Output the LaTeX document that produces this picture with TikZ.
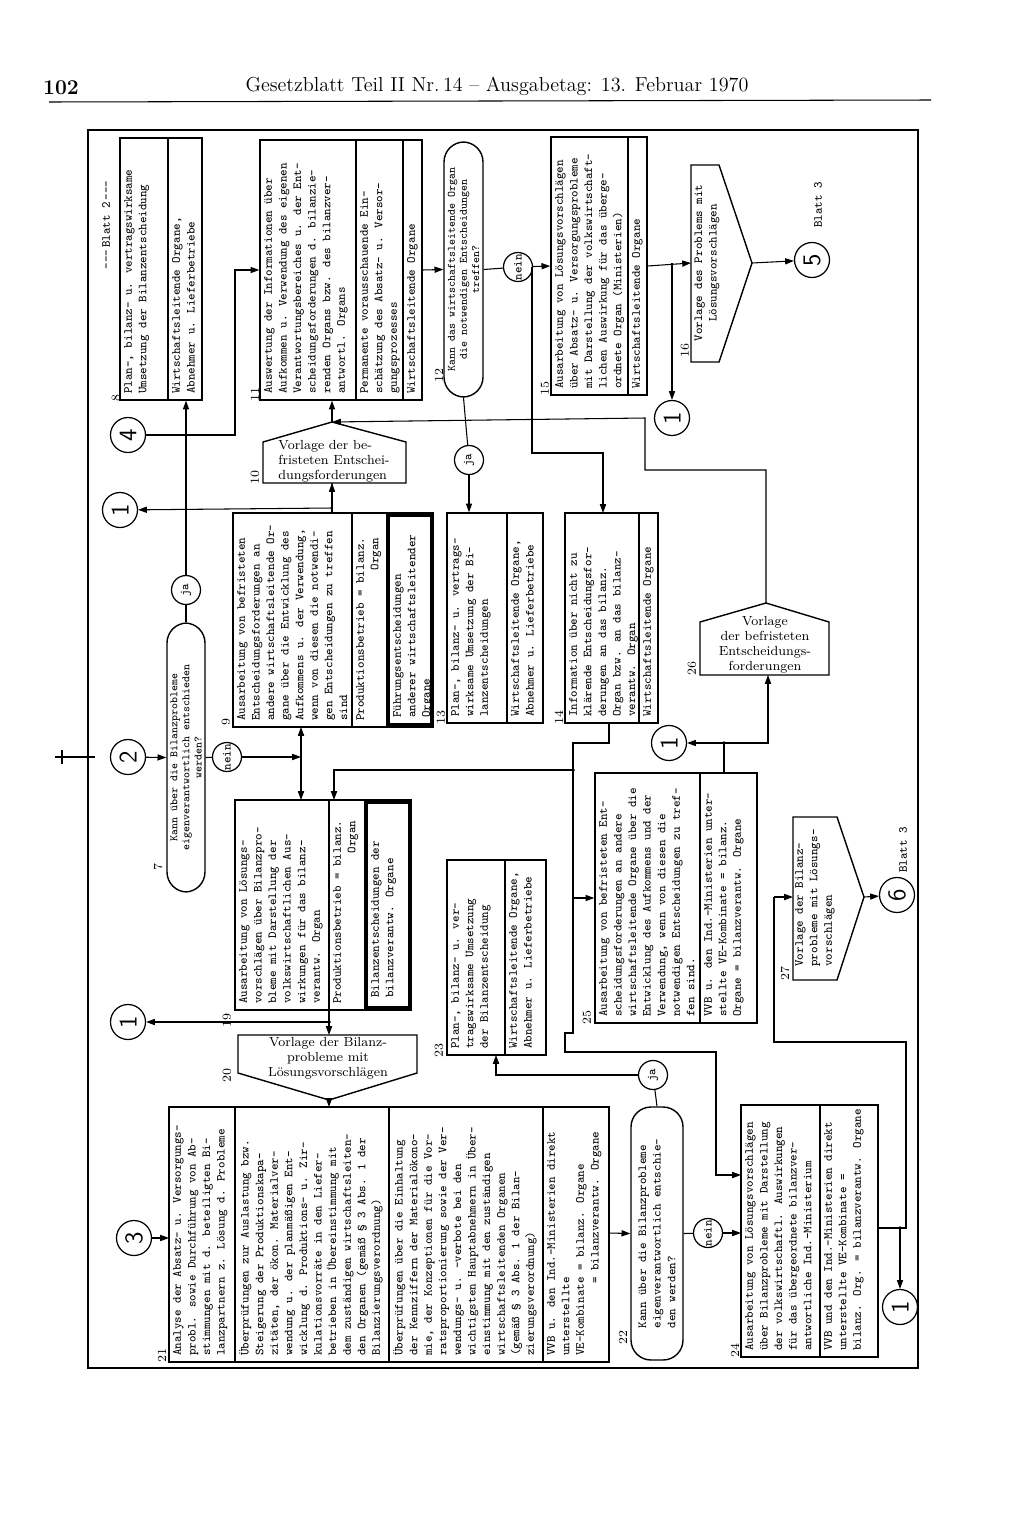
\documentclass[tikz,border=0pt]{standalone}
\usetikzlibrary{fit,arrows.meta}
\tikzset{
  box/.style={draw,line width=0.8pt,inner sep=0pt},
  thick box/.style={draw,line width=2.4pt,inner sep=0pt},
  dec/.style={draw,line width=0.8pt,inner sep=0pt,rounded corners=0.4cm},
  txt/.style={font=\ttfamily\fontsize{7}{8.3}\selectfont,rotate=90,align=left,inner sep=1pt},
  dtxt/.style={font=\ttfamily\fontsize{6.4}{6.9}\selectfont,rotate=90,inner sep=0pt},
  ptxt/.style={font=\rmfamily\fontsize{7.5}{8.6}\selectfont,align=center,inner sep=1pt},
  num/.style={font=\rmfamily\fontsize{7}{8}\selectfont,rotate=90,inner sep=0pt},
  cir/.style={draw,circle,line width=0.7pt,minimum size=0.7cm,inner sep=0pt,font=\sffamily\Large,rotate=90},
  jn/.style={draw,circle,line width=0.7pt,minimum size=0.58cm,inner sep=0pt,font=\ttfamily\fontsize{7}{8}\selectfont,rotate=90},
  arr/.style={-{Triangle[length=5pt,width=3.5pt]}},
  dot/.style={circle,fill,inner sep=0.8pt}
}
\begin{document}
\begin{tikzpicture}[x=0.02cm,y=-0.02cm,line width=0.6pt]
\useasboundingbox (0,0) rectangle (1024,1528);
% page head
\node[font=\bfseries\fontsize{12}{14}\selectfont] (pg) at (61,88) {102};
\node[font=\fontsize{11.5}{14}\selectfont] (ttl) at (497,86) {Gesetzblatt Teil II Nr.\,14 -- Ausgabetag: 13. Februar 1970};
\draw (49,102) -- (931,100);
\draw[line width=1.1pt] (88,130) rectangle (918,1368);
\draw (55,757) -- (95,757);
\draw (62,750) -- (62,764);

% --- upper row
\node[box,fit={(120,138) (202,400)}] (b8) {};
\draw (168,138) -- (168,400);
\node[txt,anchor=north west] at (122,396) {Plan-, bilanz- u. vertragswirksame\\Umsetzung der Bilanzentscheidung};
\node[txt,anchor=north west] at (170,396) {Wirtschaftsleitende Organe,\\Abnehmer u. Lieferbetriebe};
\node[txt] at (106,225) {---\,Blatt 2\,---};

\node[box,fit={(260,140) (422,400)}] (b11) {};
\draw (356,140) -- (356,400);
\draw (403,140) -- (403,400);
\node[txt,anchor=north west] at (262,396) {Auswertung der Informationen über\\Aufkommen u. Verwendung des eigenen\\Verantwortungsbereiches u. der Ent-\\scheidungsforderungen d. bilanzie-\\renden Organs bzw. des bilanzver-\\antwortl. Organs};
\node[txt,anchor=north west] at (358,396) {Permanente vorausschauende Ein-\\schätzung des Absatz- u. Versor-\\gungsprozesses};
\node[txt,anchor=north west] at (405,396) {Wirtschaftsleitende Organe};

\node[dec,fit={(444,142) (483,397)}] (d12) {};
\node[dtxt,align=center] at (d12) {Kann das wirtschaftsleitende Organ\\die notwendigen Entscheidungen\\treffen?};
\node[jn] (n12) at (518,267) {nein};
\node[jn] (j12) at (469,460) {ja};

\node[box,fit={(551,137) (647,395)}] (b15) {};
\draw (628,137) -- (628,395);
\node[txt,anchor=north west] at (553,391) {Ausarbeitung von Lösungsvorschlägen\\über Absatz- u. Versorgungsprobleme\\mit Darstellung der volkswirtschaft-\\lichen Auswirkung für das überge-\\ordnete Organ (Ministerien)};
\node[txt,anchor=north west] at (630,391) {Wirtschaftsleitende Organe};

\draw[line width=0.8pt] (691,165) -- (719,165) -- (752,263) -- (719,362) -- (691,362) -- cycle;
\coordinate (p16l) at (691,263);
\coordinate (p16p) at (752,263);
\node[txt,align=center] (t16) at (707,263) {Vorlage des Problems mit\\Lösungsvorschlägen};
\node[cir] (c5) at (812,260) {5};
\node[txt] at (818,205) {Blatt 3};
\node[cir] (c1a) at (672,418) {1};

\node[cir] (c4) at (128,435) {4};
\node[cir] (c1b) at (120,510) {1};

\draw[line width=0.8pt] (332,422) -- (406,442) -- (406,483) -- (263,483) -- (263,442) -- cycle;
\coordinate (p10a) at (332,422);
\coordinate (p10b) at (332,483);
\node[ptxt,align=left] (t10) at (334,461) {Vorlage der be-\\fristeten Entschei-\\dungsforderungen};

% --- middle
\node[box,fit={(233,513) (433,727)}] (b9) {};
\draw (352,513) -- (352,727);
\node[thick box,fit={(388,515) (432,725)}] (b9f) {};
\node[txt,anchor=north west] at (235,723) {Ausarbeitung von befristeten\\Entscheidungsforderungen an\\andere wirtschaftsleitende Or-\\gane über die Entwicklung des\\Aufkommens u. der Verwendung,\\wenn von diesen die notwendi-\\gen Entscheidungen zu treffen\\sind};
\node[txt,anchor=north west] at (354,723) {Produktionsbetrieb = bilanz.\\\hfill Organ};
\node[txt,anchor=north west] at (391,720) {Führungsentscheidungen\\anderer wirtschaftsleitender\\Organe};

\node[box,fit={(447,513) (543,723)}] (b13) {};
\draw (507,513) -- (507,723);
\node[txt,anchor=north west] at (449,719) {Plan-, bilanz- u. vertrags-\\wirksame Umsetzung der Bi-\\lanzentscheidungen};
\node[txt,anchor=north west] at (509,719) {Wirtschaftsleitende Organe,\\Abnehmer u. Lieferbetriebe};

\node[box,fit={(565,513) (658,723)}] (b14) {};
\draw (639,513) -- (639,723);
\node[txt,anchor=north west] at (567,719) {Information über nicht zu\\klärende Entscheidungsfor-\\derungen an das bilanz.\\Organ bzw. an das bilanz-\\verantw. Organ};
\node[txt,anchor=north west] at (641,719) {Wirtschaftsleitende Organe};

\draw[line width=0.8pt] (766,603) -- (829,622) -- (829,675) -- (700,675) -- (700,622) -- cycle;
\coordinate (p26a) at (766,603);
\coordinate (p26b) at (768,675);
\node[ptxt] (t26) at (765,645) {Vorlage\\der befristeten\\Entscheidungs-\\forderungen};

\node[dec,fit={(167,623) (205,892)}] (d7) {};
\node[dtxt,align=center] at (d7) {Kann über die Bilanzprobleme\\eigenverantwortlich entschieden\\werden?};
\node[jn] (j7) at (186,590) {ja};
\node[cir] (c2) at (128,757) {2};
\node[jn] (n7) at (227,757) {nein};

\node[box,fit={(235,800) (411,1010)}] (b19) {};
\draw (329,800) -- (329,1010);
\node[thick box,fit={(366,802) (410,1008)}] (b19f) {};
\node[txt,anchor=north west] at (237,1006) {Ausarbeitung von Lösungs-\\vorschlägen über Bilanzpro-\\bleme mit Darstellung der\\volkswirtschaftlichen Aus-\\wirkungen für das bilanz-\\verantw. Organ};
\node[txt,anchor=north west] at (331,1006) {Produktionsbetrieb = bilanz.\\\hfill Organ};
\node[txt,anchor=north west] at (369,1000) {Bilanzentscheidungen der\\bilanzverantw. Organe};
\node[cir] (c1c) at (128,1022) {1};

\node[box,fit={(447,860) (546,1055)}] (b23) {};
\draw (505,860) -- (505,1055);
\node[txt,anchor=north west] at (449,1051) {Plan-, bilanz- u. ver-\\tragswirksame Umsetzung\\der Bilanzentscheidung};
\node[txt,anchor=north west] at (507,1051) {Wirtschaftsleitende Organe,\\Abnehmer u. Lieferbetriebe};

\node[box,fit={(595,773) (757,1023)}] (b25) {};
\draw (700,773) -- (700,1023);
\node[txt,anchor=north west] at (597,1019) {Ausarbeitung von befristeten Ent-\\scheidungsforderungen an andere\\wirtschaftsleitende Organe über die\\Entwicklung des Aufkommens und der\\Verwendung, wenn von diesen die\\notwendigen Entscheidungen zu tref-\\fen sind.};
\node[txt,anchor=north west] at (702,1019) {VVB u. den Ind.-Ministerien unter-\\stellte VE-Kombinate = bilanz.\\Organe = bilanzverantw. Organe};
\node[cir] (c1d) at (669,743) {1};

\draw[line width=0.8pt] (793,817) -- (837,817) -- (864,897) -- (837,980) -- (793,980) -- cycle;
\coordinate (p27l) at (793,897);
\coordinate (p27p) at (864,897);
\node[txt,align=left] (t27) at (815,898) {Vorlage der Bilanz-\\probleme mit Lösungs-\\vorschlägen};
\node[cir] (c6) at (897,895) {6};
\node[txt] at (903,850) {Blatt 3};

\draw[line width=0.8pt] (238,1035) -- (417,1035) -- (417,1073) -- (329,1100) -- (238,1073) -- cycle;
\coordinate (p20t) at (329,1035);
\coordinate (p20p) at (329,1100);
\node[ptxt] (t20) at (328,1058) {Vorlage der Bilanz-\\probleme mit\\Lösungsvorschlägen};

% --- lower row
\node[box,fit={(169,1107) (609,1362)}] (b21) {};
\draw (235,1107) -- (235,1362);
\draw (389,1107) -- (389,1362);
\draw (543,1107) -- (543,1362);
\node[txt,anchor=north west] at (171,1358) {Analyse der Absatz- u. Versorgungs-\\probl. sowie Durchführung von Ab-\\stimmungen mit d. beteiligten Bi-\\lanzpartnern z. Lösung d. Probleme};
\node[txt,anchor=north west] at (237,1358) {Überprüfungen zur Auslastung bzw.\\Steigerung der Produktionskapa-\\zitäten, der ökon. Materialver-\\wendung u. der planmäßigen Ent-\\wicklung d. Produktions- u. Zir-\\kulationsvorräte in den Liefer-\\betrieben in Übereinstimmung mit\\dem zuständigen wirtschaftsleiten-\\den Organen (gemäß § 3 Abs. 1 der\\Bilanzierungsverordnung)};
\node[txt,anchor=north west] at (391,1358) {Überprüfungen über die Einhaltung\\der Kennziffern der Materialökono-\\mie, der Konzeptionen für die Vor-\\ratsproportionierung sowie der Ver-\\wendungs- u. -verbote bei den\\wichtigsten Hauptabnehmern in Über-\\einstimmung mit den zuständigen\\wirtschaftsleitenden Organen\\(gemäß § 3 Abs. 1 der Bilan-\\zierungsverordnung)};
\node[txt,anchor=north west] at (545,1358) {VVB u. den Ind.-Ministerien direkt\\unterstellte\\VE-Kombinate = bilanz. Organe\\\hfill = bilanzverantw. Organe};
\node[cir] (c3) at (134,1238) {3};

\node[dec,fit={(631,1107) (683,1360)}] (d22) {};
\node[txt,align=left] at (d22) {Kann über die Bilanzprobleme\\eigenverantwortlich entschie-\\den werden?};
\node[jn] (j22) at (653,1075) {ja};
\node[jn] (n22) at (708,1233) {nein};

\node[box,fit={(741,1105) (878,1357)}] (b24) {};
\draw (820,1105) -- (820,1357);
\node[txt,anchor=north west] at (743,1353) {Ausarbeitung von Lösungsvorschlägen\\über Bilanzprobleme mit Darstellung\\der volkswirtschaftl. Auswirkungen\\für das übergeordnete bilanzver-\\antwortliche Ind.-Ministerium};
\node[txt,anchor=north west] at (822,1353) {VVB und den Ind.-Ministerien direkt\\unterstellte VE-Kombinate =\\bilanz. Org. = bilanzverantw. Organe};
\node[cir] (c1e) at (900,1307) {1};

% numbers
\node[num] at (116,398) {8};
\node[num] at (255,394) {11};
\node[num] at (439,375) {12};
\node[num] at (545,388) {15};
\node[num] at (685,350) {16};
\node[num] at (255,477) {10};
\node[num] at (226,722) {9};
\node[num] at (441,717) {13};
\node[num] at (559,717) {14};
\node[num] at (158,867) {7};
\node[num] at (692,668) {26};
\node[num] at (227,1020) {19};
\node[num] at (439,1050) {23};
\node[num] at (587,1017) {25};
\node[num] at (785,973) {27};
\node[num] at (227,1075) {20};
\node[num] at (162,1355) {21};
\node[num] at (623,1337) {22};
\node[num] at (735,1350) {24};

% connectors
\draw[arr] (c4) -- (235,435) |- (b11.west);
\draw (j7) -- (j7 |- d7.north);
\draw[arr] (j7) -- (j7 |- b8.south);
\draw[arr] (p10b) -- (332,508) -- (c1b);
\draw[arr] (b9.north -| p10b) -- (p10b);
\draw[arr] (p10a) -- (p10a |- b11.south);
\draw[arr] (p26a) -- (766,470) -- (645,470) -- (645,418) -- (p10a);
\draw[arr] (b11.east) -- (d12.west);
\draw (d12.east) -- (n12);
\draw[arr] (n12) -- (b15.west);
\draw[arr] (532,267) -- (532,453) -- (603,453) -- (603,513);
\draw (d12.south) -- (j12);
\draw[arr] (j12) -- (j12 |- b13.north);
\draw[arr] (b15.east) -- (p16l);
\draw[arr] (672,263) -- (c1a);
\draw[arr] (p16p) -- (c5);
\draw[arr] (c2) -- (d7.west);
\draw (d7.east) -- (n7);
\draw[arr] (n7) -- (301,757);
\draw[arr] (301,757) -- (301,727);
\draw[arr] (301,757) -- (301,800);
\draw[arr] (609,723) -- (609,743) -- (573,743) -- (573,1033) -- (565,1033) -- (565,1052) -- (716,1052) -- (716,1175) -- (741,1175);
\draw[arr] (573,770) -- (334,770) -- (334,800);
\node[dot] at (573,770) {};
\draw[arr] (573,898) -- (b25.west);
\draw (724,773) -- (724,743);
\draw[arr] (724,743) -- (c1d);
\draw[arr] (724,743) -- (768,743) -- (p26b);
\node[dot] at (724,743) {};
\draw[arr] (329,1022) -- (c1c);
\draw[arr] (329,1010) -- (p20t);
\node[dot] at (329,1022) {};
\draw[arr] (p20p) -- (329,1107);
\draw[arr] (c3) -- (169,1238);
\draw[arr] (609,1233) -- (d22.west);
\draw (d22.east) -- (n22);
\draw[arr] (n22) -- (741,1233);
\draw (d22.north) -- (j22);
\draw[arr] (j22) -- (496,1075) -- (496,1055);
\draw (878,1228) -- (906,1228) -- (906,1042) -- (774,1042) -- (774,897);
\draw[arr] (774,897) -- (p27l);
\draw[arr] (900,1228) -- (c1e);
\node[dot] at (900,1228) {};
\draw[arr] (p27p) -- (c6);
\end{tikzpicture}
\end{document}
